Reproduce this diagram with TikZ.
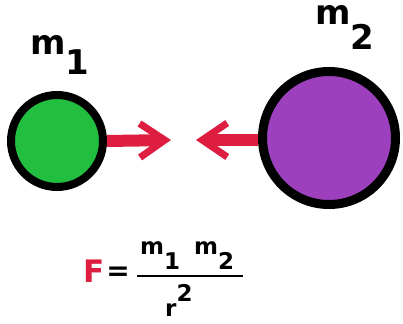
\documentclass[tikz,border=0pt]{standalone}
\usepackage{fontspec}
\setmainfont{DejaVu Sans}
\usetikzlibrary{arrows.meta, positioning}
\definecolor{pullred}{RGB}{222,30,64}
\definecolor{ballgreen}{RGB}{34,190,64}
\definecolor{ballpurple}{RGB}{156,64,190}

\begin{document}
\begin{tikzpicture}[x=1pt, y=-1pt,
  ball/.style={circle, draw=black, inner sep=0pt},
  mass/.style={font=\fontsize{34}{36}\selectfont\bfseries, inner sep=0pt},
  formula/.style={font=\fontsize{23}{25}\selectfont\bfseries, inner sep=0pt},
  pull/.style={pullred, line width=12pt, -{Straight Barb[length=25pt, width=34pt, line width=7pt]}},
]
\useasboundingbox (0,0) rectangle (403,323);

% === Masses ===
\node[ball, fill=ballgreen, line width=8pt, minimum size=92pt] (small) at (57,141) {};
\node[ball, fill=ballpurple, line width=9pt, minimum size=133pt] (big) at (329,138) {};

% === Mass labels ===
\node[mass, anchor=base west] (lblone) at (30,55) {m\raisebox{-20pt}{1}};
\node[mass, anchor=base west] (lbltwo) at (315,25) {m\raisebox{-25pt}{2}};

% === Pull arrows ===
\coordinate (tipl) at (171,140);
\coordinate (tipr) at (196,140);
\draw[pull] (small.east) -- (tipl);
\draw[pull] (big.west |- tipr) -- (tipr);

% === Formula ===
\node[formula, text=pullred, font=\fontsize{31}{33}\selectfont\bfseries, anchor=base west] (force) at (83,282) {F};
\node[formula, font=\fontsize{28}{30}\selectfont\bfseries] (eq) at (118,274) {=};
\node[formula, anchor=base west] (num) at (140,254) {m\raisebox{-15pt}{1}\hspace{14pt}m\raisebox{-15pt}{2}};
\draw[line width=2pt] (137,275.5) -- (243,275.5);
\node[formula, anchor=base west] (den) at (165,316) {r\raisebox{15pt}{2}};
\end{tikzpicture}
\end{document}
